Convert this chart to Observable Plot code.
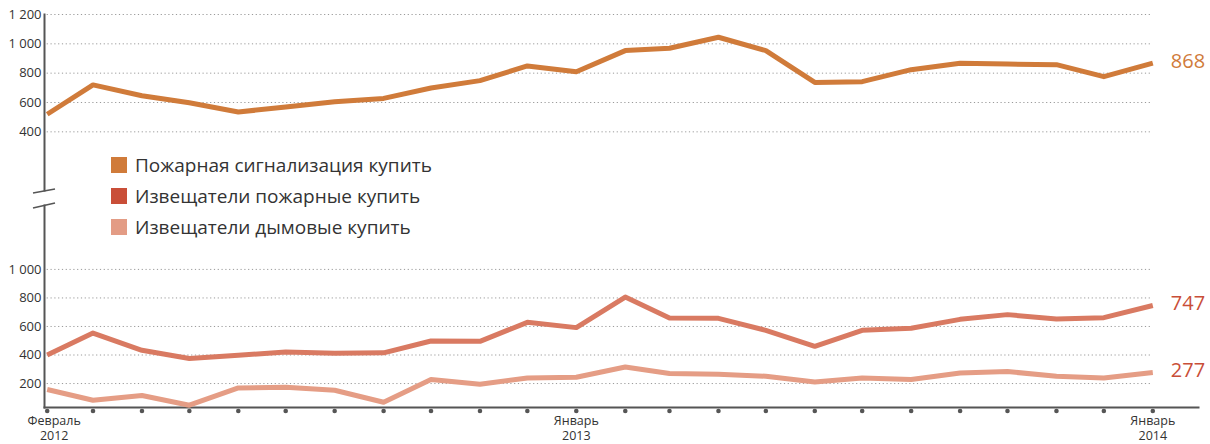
<!DOCTYPE html>
<html><head><meta charset="utf-8">
<script src="https://cdn.jsdelivr.net/npm/d3@7"></script>
<script src="https://cdn.jsdelivr.net/npm/@observablehq/plot@0.6"></script>
<style>
body{margin:0;background:#fff;}
#chart{position:relative;width:1210px;height:444px;font-family:"Open Sans",sans-serif;overflow:hidden;}
#top,#bottom,#brk{position:absolute;left:0;}
#top{top:0}
#bottom{top:205px}
#brk{top:0}
#legend{position:absolute;left:111px;top:149px;color:#333;font-size:19px;}
#legend .row{display:flex;align-items:center;height:31px;}
#legend .sw{width:16px;height:16px;margin-right:8px;}
</style>
</head><body>
<div id="chart"><div id="top"></div><div id="bottom"></div><div id="legend"></div></div>
<script>
const months = ["2012-02","2012-03","2012-04","2012-05","2012-06","2012-07","2012-08","2012-09","2012-10","2012-11","2012-12","2013-01","2013-02","2013-03","2013-04","2013-05","2013-06","2013-07","2013-08","2013-09","2013-10","2013-11","2013-12","2014-01"];
const seriesNames = ["Пожарная сигнализация купить","Извещатели пожарные купить","Извещатели дымовые купить"];
const legendColors = ["#D07B3A","#C94E38","#E39C85"];
const lineColors = ["#D07B3A","#D97A62","#E59D85"];
const labelColors = ["#D07B3A","#C94E38","#C94E38"];
const alarmValues = [520,720,646,598,535,570,605,628,699,749,849,810,954,970,1045,954,737,742,824,867,862,858,776,868];
const detectorValues = [400,554,433,375,398,421,412,415,498,496,629,592,806,659,657,573,461,573,587,650,683,652,662,747];
const smokeValues = [158,83,116,48,169,174,153,69,228,195,239,244,316,270,265,251,211,239,228,274,284,251,239,277];
const topTicks = [400,600,800,1000,1200];
const bottomTicks = [200,400,600,800,1000];
const xLabels = [["2012-02","Февраль\n2012"],["2013-01","Январь\n2013"],["2014-01","Январь\n2014"]];

const parse = d3.utcParse("%Y-%m");
const dates = months.map(parse);
const mk = vals => vals.map((v,i)=>({date:dates[i], value:v}));
const series = [mk(alarmValues), mk(detectorValues), mk(smokeValues)];
const first = dates[0], last = dates[dates.length-1];
const fmt = d => d3.format(",")(d).replace(/,/g," ");
const style = {fontFamily:"'Open Sans',sans-serif", background:"transparent", overflow:"visible"};
const xScale = {type:"utc", domain:[first,last], range:[46.7,1152.3], axis:null};
const grid = ticks => Plot.ruleY(ticks, {y:d=>d, x1:()=>first, x2:()=>last, stroke:"#9a9a9a", strokeWidth:1, strokeDasharray:"1.2,2.6"});
const yAxis = ticks => Plot.axisY({ticks, label:null, tickSize:0, tickPadding:3, tickFormat:fmt, fontSize:13, fill:"#333"});
const lineMark = (data, c) => Plot.line(data, {x:"date", y:"value", stroke:c, strokeWidth:5, strokeLinejoin:"round", strokeLinecap:"butt"});
const endLabel = (data, c) => Plot.text([data[data.length-1]], {x:"date", y:"value", text:d=>String(d.value), dx:18, dy:-2, textAnchor:"start", fill:c, fontSize:20});

const topPlot = Plot.plot({
  width:1210, height:191, marginTop:14, marginBottom:1, marginLeft:44, marginRight:12,
  style, x:xScale, y:{domain:[0,1200], axis:null},
  marks:[
    grid(topTicks), yAxis(topTicks),
    Plot.frame({anchor:"left", stroke:"#555", strokeWidth:2}),
    lineMark(series[0], lineColors[0]),
    endLabel(series[0], labelColors[0])
  ]
});
document.getElementById("top").appendChild(topPlot);

const labelData = xLabels.map(([m,t])=>({date:parse(m), text:t}));
const bottomPlot = Plot.plot({
  width:1210, height:239, marginTop:0, marginBottom:37, marginLeft:44, marginRight:12,
  style, x:xScale, y:{domain:[32,1448], axis:null},
  marks:[
    grid(bottomTicks), yAxis(bottomTicks),
    Plot.frame({anchor:"left", stroke:"#555", strokeWidth:2}),
    Plot.frame({anchor:"bottom", stroke:"#555", strokeWidth:2}),
    Plot.dot(dates, {x:d=>d, frameAnchor:"bottom", dy:3.5, r:2.3, fill:"#555", stroke:null}),
    Plot.text(labelData.slice(0,1), {x:"date", text:"text", frameAnchor:"bottom", dy:7, dx:7, lineAnchor:"top", lineHeight:1.17, fontSize:12.5, fill:"#333"}),
    Plot.text(labelData.slice(1), {x:"date", text:"text", frameAnchor:"bottom", dy:7, lineAnchor:"top", lineHeight:1.17, fontSize:12.5, fill:"#333"}),
    lineMark(series[1], lineColors[1]),
    lineMark(series[2], lineColors[2]),
    endLabel(series[1], labelColors[1]),
    endLabel(series[2], labelColors[2])
  ]
});
document.getElementById("bottom").appendChild(bottomPlot);

// axis break marks (decoration)
const ns = "http://www.w3.org/2000/svg";
const brk = document.createElementNS(ns, "svg");
brk.setAttribute("id","brk"); brk.setAttribute("width","80"); brk.setAttribute("height","230");
brk.style.position="absolute"; brk.style.left="0"; brk.style.top="0";
[[193,189],[208,203]].forEach(([y1,y2])=>{
  const l = document.createElementNS(ns,"line");
  l.setAttribute("x1",33); l.setAttribute("y1",y1); l.setAttribute("x2",55); l.setAttribute("y2",y2);
  l.setAttribute("stroke","#555"); l.setAttribute("stroke-width","1.5");
  brk.appendChild(l);
});
document.getElementById("chart").appendChild(brk);

const legend = document.getElementById("legend");
seriesNames.forEach((n,i)=>{
  const row = document.createElement("div"); row.className="row";
  const sw = document.createElement("div"); sw.className="sw"; sw.style.background=legendColors[i];
  const t = document.createElement("span"); t.textContent=n;
  row.appendChild(sw); row.appendChild(t); legend.appendChild(row);
});
</script>
</body></html>
